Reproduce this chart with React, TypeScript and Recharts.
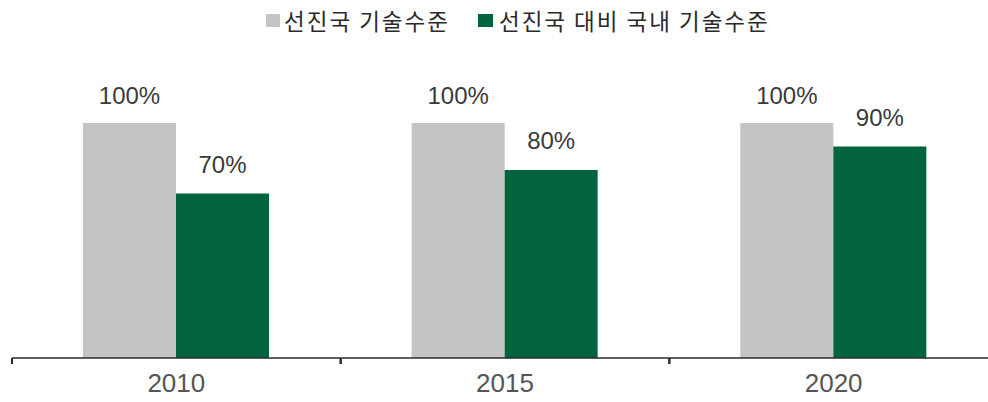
import React from "react";
import { BarChart, Bar, XAxis, YAxis, LabelList } from "recharts";

const categories = ["2010", "2015", "2020"];
const advanced = [100, 100, 100];
const domestic = [70, 80, 90];
const seriesNames = ["선진국 기술수준", "선진국 대비 국내 기술수준"];

const GRAY = "#c4c4c4";
const GREEN = "#02633f";
const AXIS = "#2a2a2a";
const TICK_SIZE = 6;
const TICK_MARGIN = 10;

const data = categories.map((c, i) => ({
  year: c,
  adv: advanced[i],
  dom: domestic[i],
}));

const fmt = (v: number) => `${v}%`;

const YearTick = (props: any) => {
  const { x, y, payload } = props;
  const half = payload && typeof payload.offset === "number" ? payload.offset : 0;
  const axisY = y - TICK_SIZE - TICK_MARGIN;
  return (
    <g>
      <line x1={x - half} x2={x - half} y1={axisY} y2={axisY + TICK_SIZE} stroke={AXIS} strokeWidth={2} />
      <line x1={x + half} x2={x + half} y1={axisY} y2={axisY + TICK_SIZE} stroke={AXIS} strokeWidth={2} />
      <text
        x={x}
        y={y}
        dy="0.71em"
        textAnchor="middle"
        fill="#555"
        fontSize={26}
        fontFamily="'Liberation Sans', Arial, sans-serif"
      >
        {payload.value}
      </text>
    </g>
  );
};

export default function App() {
  const labelStyle = {
    fill: "#3a3a3a",
    fontSize: 24,
    fontFamily: "'Liberation Sans', Arial, sans-serif",
  };
  return (
    <div
      style={{
        position: "absolute",
        left: 0,
        top: 0,
        width: 988,
        height: 402,
        overflow: "hidden",
        background: "#fff",
      }}
    >
      <div
        style={{
          position: "absolute",
          left: 266,
          top: 6,
          height: 28,
          display: "flex",
          alignItems: "center",
          fontFamily: "'Noto Sans CJK KR', sans-serif",
          fontSize: 22.5,
          letterSpacing: 2,
          color: "#2a2a2a",
          whiteSpace: "nowrap",
        }}
      >
        <span style={{ display: "inline-block", width: 14, height: 13, background: GRAY, marginRight: 4 }} />
        <span>{seriesNames[0]}</span>
        <span style={{ display: "inline-block", width: 15, height: 13, background: GREEN, marginLeft: 28, marginRight: 6 }} />
        <span>{seriesNames[1]}</span>
      </div>
      <BarChart
        width={1000}
        height={402}
        data={data}
        margin={{ top: 123, right: 2, bottom: 0, left: 12 }}
        barGap={0}
        barSize={93}
      >
        <YAxis hide domain={[0, 100]} />
        <XAxis
          dataKey="year"
          height={44}
          axisLine={{ stroke: AXIS, strokeWidth: 1.5 }}
          tickLine={false}
          tickSize={TICK_SIZE}
          tickMargin={TICK_MARGIN}
          interval={0}
          tick={YearTick}
        />
        <Bar dataKey="adv" name={seriesNames[0]} fill={GRAY} isAnimationActive={false}>
          <LabelList dataKey="adv" position="top" offset={19} formatter={fmt} style={labelStyle} />
        </Bar>
        <Bar dataKey="dom" name={seriesNames[1]} fill={GREEN} isAnimationActive={false}>
          <LabelList dataKey="dom" position="top" offset={21} formatter={fmt} style={labelStyle} />
        </Bar>
      </BarChart>
    </div>
  );
}
